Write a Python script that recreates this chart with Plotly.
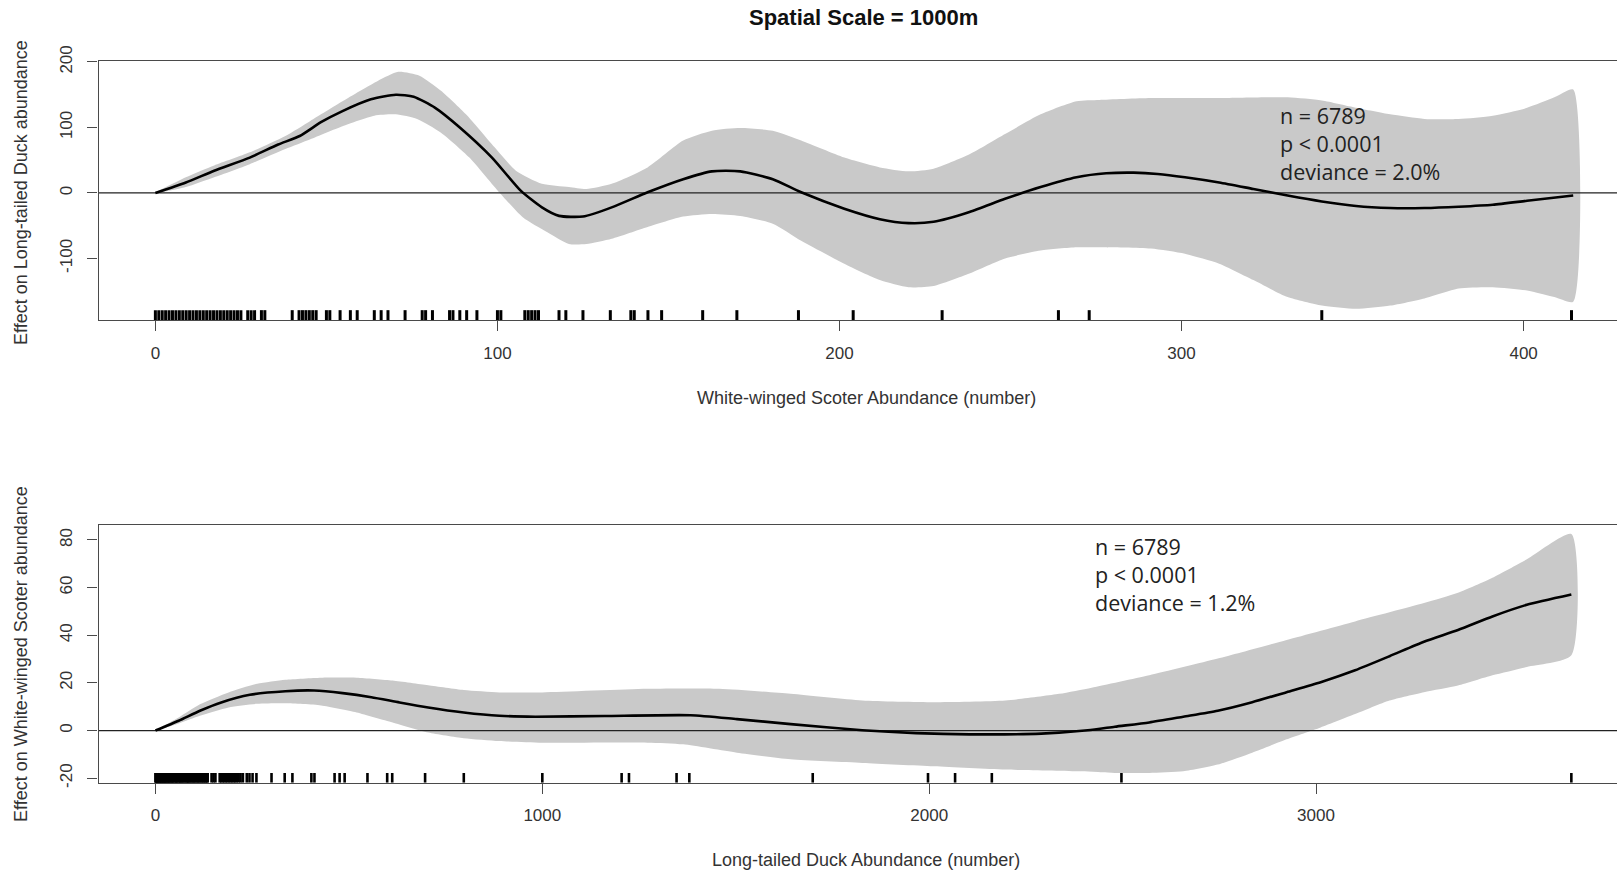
import plotly.graph_objects as go

# ---------------- Panel 1: effect of White-winged Scoter on Long-tailed Duck ----------------
wws_x = [0, 8.9, 17.2, 27.6, 35.9, 42.2, 48.4, 54.7, 63, 70.3, 75.5, 81.8, 89, 98.4, 106.8, 113,
         118, 125, 133.4, 143.9, 154.3, 162.7, 171, 180.5, 188.8, 201.4, 211.8, 220.2, 227.5, 238,
         248.4, 258.8, 269.3, 278, 286, 293, 301, 311, 321, 331, 341, 351, 361, 371, 381, 391, 401, 414.5]
wws_fit = [0, 16, 34, 54, 74, 87, 108, 125, 143, 150, 147, 130, 100, 54, 3.5, -22,
           -35, -36, -22, 1, 21, 33, 33, 21, 1, -24, -40, -46, -44, -29,
           -9, 9, 24, 30, 31, 29, 24, 16, 6, -4, -13, -20, -23, -23, -21, -18, -12, -4]

wws_band_x = [0, 8.9, 17.2, 27.6, 38, 45.3, 54.7, 65, 71, 77.2, 83.5, 90.8, 99.1, 105.4, 113,
              120.9, 126, 133.4, 143.9, 154.3, 162.7, 171, 180.5, 188.8, 201.4, 211.8, 220.2, 227.5,
              238, 248.4, 258.8, 269.3, 276, 291, 311, 331, 341, 351, 361, 371, 381, 391, 401, 409, 414.5]
wws_upper = [1, 24, 42, 62, 87, 110, 140, 171, 185, 179, 156, 120, 70, 34, 14,
             9, 6, 14, 39, 80, 95, 99, 95, 80, 54, 39, 33, 37,
             59, 90, 120, 140, 142, 145, 145, 146, 141, 130, 120, 113, 113, 118, 130, 146, 158]
wws_lower_x = [0, 8.9, 17.2, 27.6, 38, 45.3, 54.7, 64, 70.3, 76.5, 83.5, 91.8, 100.1, 107.4, 114.6,
               120.9, 126, 133.4, 143.9, 154.3, 162.7, 171, 180.5, 188.8, 201.4, 211.8, 220.2, 227.5,
               238, 248.4, 258.8, 269.3, 276, 291, 301, 311, 321, 331, 341, 351, 361, 371, 381, 391,
               401, 409, 414.5]
wws_lower = [-1, 9, 24, 44, 67, 82, 102, 118, 120, 113, 92, 54, 3.5, -37, -60,
             -78, -78, -70, -52, -36, -32, -35, -47, -73, -108, -133, -144, -142,
             -123, -100, -88, -83, -83, -85, -93, -108, -133, -159, -172, -177, -172, -161, -146, -144,
             -149, -159, -166]

wws_rug = [0, 1, 2, 3, 4, 5, 6, 7, 8, 9, 10, 11, 12, 13, 14, 15, 16, 17, 18, 19, 20, 21, 22, 23,
           24, 25, 27, 28, 29, 31, 32, 40, 42, 43, 44, 45, 46, 47, 50, 51, 54, 57, 59, 64, 66, 68,
           73, 78, 79, 81, 86, 87, 89, 91, 94, 100, 101, 108, 109, 110, 111, 112, 118, 120, 125,
           133, 139, 140, 144, 148, 160, 170, 188, 204, 230, 264, 273, 341, 414]

# ---------------- Panel 2: effect of Long-tailed Duck on White-winged Scoter ----------------
ltd_x = [0, 60, 115, 170, 244, 336, 410, 484, 558, 631, 705, 797, 889, 982, 1161, 1383, 1503,
         1642, 1827, 1966, 2105, 2290, 2410, 2480, 2569, 2657, 2746, 2835, 2924, 3012, 3101, 3190,
         3279, 3367, 3456, 3545, 3660]
ltd_fit = [0, 4.1, 8.3, 11.8, 15, 16.5, 16.8, 15.7, 14, 11.8, 9.7, 7.6, 6.2, 5.8, 6.1, 6.4, 4.8,
           2.7, 0.1, -1.1, -1.6, -1.3, 0.1, 1.6, 3.4, 5.8, 8.3, 11.9, 16.1, 20.3, 25.3, 31.2,
           37.3, 42.2, 47.9, 52.8, 57.1]

ltd_up_x = [0, 60, 115, 189, 263, 336, 428, 520, 613, 705, 797, 889, 1000, 1272, 1457, 1642, 1827,
            2012, 2197, 2336, 2420, 2569, 2746, 2924, 3101, 3279, 3367, 3456, 3545, 3660]
ltd_upper = [0, 5.5, 11, 16, 19.6, 21.3, 22.2, 22.2, 21, 19, 17, 16, 16, 17.5, 17.5, 15.4, 12.6,
             11.9, 12.6, 15.4, 18, 23.2, 30.2, 38, 45.8, 53.5, 57.8, 64.1, 71.9, 82.5]
ltd_lo_x = [0, 60, 115, 189, 263, 336, 428, 520, 613, 705, 797, 889, 1000, 1272, 1364, 1503, 1642,
            1827, 2012, 2197, 2391, 2480, 2569, 2657, 2746, 2835, 2924, 3012, 3101, 3190, 3279,
            3367, 3456, 3545, 3660]
ltd_lower = [0, 3, 6.2, 9.7, 11.2, 11.4, 10.5, 7.6, 3.4, -0.8, -3.2, -4.4, -5.1, -5.1, -5.8, -9.3,
             -12.1, -13.6, -15, -16.4, -17.1, -17.8, -17.8, -17.1, -14.3, -9.3, -3.7, 1.3, 6.9,
             12.6, 16.1, 18.9, 23.2, 26.7, 31.6]

ltd_rug = [0, 1, 2, 3, 4, 5, 6, 8, 10, 11, 12, 14, 15, 16, 18, 20, 21, 22, 24, 25, 27, 28, 30, 32,
           33, 35, 36, 38, 40, 42, 44, 45, 47, 50, 52, 54, 55, 57, 60, 62, 64, 65, 68, 70, 72, 75,
           77, 80, 82, 84, 85, 88, 90, 93, 95, 98, 100, 102, 105, 108, 110, 112, 115, 118, 120, 123,
           125, 128, 130, 133, 135, 145, 150, 155, 166, 170, 174, 178, 182, 186, 190, 194, 198, 202,
           206, 210, 215, 220, 226, 236, 243, 251, 261, 300, 334, 354, 403, 411, 463, 476, 489, 548,
           599, 612, 697, 797, 1000, 1205, 1224, 1347, 1380, 1699, 1997, 2067, 2162, 2497, 3660]

# model statistics printed in each panel
top_stats = ["n = 6789", "p < 0.0001", "deviance = 2.0%"]
bot_stats = ["n = 6789", "p < 0.0001", "deviance = 1.2%"]

# axis settings
x1_range = [-16.6, 427.3]
y1_range = [-194, 201.5]
x1_ticks = [0, 100, 200, 300, 400]
y1_ticks = [-100, 0, 100, 200]
y1_ticktext = ["-100", "0", "100", "200"]

x2_range = [-147, 3778]
y2_range = [-21.9, 86.4]
x2_ticks = [0, 1000, 2000, 3000]
y2_ticks = [-20, 0, 20, 40, 60, 80]
y2_ticktext = ["-20", "0", "20", "40", "60", "80"]

W, H = 1617, 877
LEFT = 98.6
BAND = "#c9c9c9"
AXIS = "#4a4a4a"
TXT = "#333333"
FONT = "Liberation Sans, Arial, sans-serif"


def band_trace(xu, yu, xl, yl, xa, ya):
    xs = list(xu) + list(reversed(xl))
    ys = list(yu) + list(reversed(yl))
    return go.Scatter(x=xs, y=ys, mode="lines", fill="toself", fillcolor=BAND,
                      line=dict(width=0, color=BAND, shape="spline", smoothing=0.6),
                      xaxis=xa, yaxis=ya, hoverinfo="skip", showlegend=False)


def rug_trace(vals, yr, xa, ya, width, frac=0.038):
    h = (yr[1] - yr[0]) * frac
    xs, ys = [], []
    for v in vals:
        xs += [v, v, None]
        ys += [yr[0], yr[0] + h, None]
    return go.Scatter(x=xs, y=ys, mode="lines", line=dict(color="black", width=width),
                      xaxis=xa, yaxis=ya, hoverinfo="skip", showlegend=False)


def zero_line(xr, xa, ya):
    return go.Scatter(x=[xr[0], xr[1]], y=[0, 0], mode="lines",
                      line=dict(color="#222222", width=1.2),
                      xaxis=xa, yaxis=ya, hoverinfo="skip", showlegend=False)


def fit_trace(xs, ys, xa, ya):
    return go.Scatter(x=xs, y=ys, mode="lines",
                      line=dict(color="black", width=2.6, shape="spline", smoothing=0.6),
                      xaxis=xa, yaxis=ya, hoverinfo="skip", showlegend=False)


fig = go.Figure()
fig.add_trace(band_trace(wws_band_x, wws_upper, wws_lower_x, wws_lower, "x", "y"))
fig.add_trace(zero_line(x1_range, "x", "y"))
fig.add_trace(fit_trace(wws_x, wws_fit, "x", "y"))
fig.add_trace(rug_trace(wws_rug, y1_range, "x", "y", 3))

fig.add_trace(band_trace(ltd_up_x, ltd_upper, ltd_lo_x, ltd_lower, "x2", "y2"))
fig.add_trace(zero_line(x2_range, "x2", "y2"))
fig.add_trace(fit_trace(ltd_x, ltd_fit, "x2", "y2"))
fig.add_trace(rug_trace(ltd_rug, y2_range, "x2", "y2", 2.6))


def ydom(top_px, bottom_px):
    return [1 - bottom_px / H, 1 - top_px / H]


xdom = [LEFT / W, 1.0]
tickfont = dict(family=FONT, size=17, color=TXT)

common_x = dict(showline=True, linecolor=AXIS, linewidth=1.4, mirror=True, ticks="outside",
                ticklen=10, tickcolor=AXIS, tickwidth=1.2, showgrid=False, zeroline=False,
                tickfont=tickfont, ticklabelstandoff=7, domain=xdom, automargin=False)
common_y = dict(showline=True, linecolor=AXIS, linewidth=1.4, mirror=False, ticks="outside",
                ticklen=10, tickcolor=AXIS, tickwidth=1.2, showgrid=False, zeroline=False,
                tickfont=tickfont, tickangle=-90, ticklabelstandoff=9, automargin=False)

fig.update_layout(
    width=W, height=H,
    margin=dict(l=0, r=0, t=0, b=0, autoexpand=False),
    paper_bgcolor="white", plot_bgcolor="white",
    showlegend=False,
    xaxis=dict(common_x, range=x1_range, tickvals=x1_ticks, anchor="y"),
    yaxis=dict(common_y, range=y1_range, tickvals=y1_ticks, ticktext=y1_ticktext,
               domain=ydom(61, 320), anchor="x"),
    xaxis2=dict(common_x, range=x2_range, tickvals=x2_ticks, anchor="y2"),
    yaxis2=dict(common_y, range=y2_range, tickvals=y2_ticks, ticktext=y2_ticktext,
                domain=ydom(524.7, 782.7), anchor="x2"),
)

ann = []
# main title
ann.append(dict(text="<b>Spatial Scale = 1000m</b>", x=863 / W, y=1 - 17.5 / H, xref="paper", yref="paper",
                xanchor="center", yanchor="middle", showarrow=False,
                font=dict(family=FONT, size=22, color="#111111")))
# axis titles
ann.append(dict(text="White-winged Scoter Abundance (number)", x=866 / W, y=1 - 398 / H,
                xref="paper", yref="paper", xanchor="center", yanchor="middle", showarrow=False,
                font=dict(family=FONT, size=18, color=TXT)))
ann.append(dict(text="Long-tailed Duck Abundance (number)", x=866 / W, y=1 - 860 / H,
                xref="paper", yref="paper", xanchor="center", yanchor="middle", showarrow=False,
                font=dict(family=FONT, size=18, color=TXT)))
ann.append(dict(text="Effect on Long-tailed Duck abundance", x=21 / W, y=1 - 193 / H,
                xref="paper", yref="paper", xanchor="center", yanchor="middle", showarrow=False,
                textangle=-90, font=dict(family=FONT, size=18, color=TXT)))
ann.append(dict(text="Effect on White-winged Scoter abundance", x=21 / W, y=1 - 654 / H,
                xref="paper", yref="paper", xanchor="center", yanchor="middle", showarrow=False,
                textangle=-90, font=dict(family=FONT, size=18, color=TXT)))

# statistics blocks, one multi-line text each
stats_font = dict(family="Open Sans, Noto Sans, sans-serif", size=21.5, color="#222222")
ann.append(dict(text="<br>".join(top_stats), x=1278 / W, y=1 - 143.5 / H, xref="paper", yref="paper",
                xanchor="left", yanchor="middle", align="left", showarrow=False, font=stats_font))
ann.append(dict(text="<br>".join(bot_stats), x=1093 / W, y=1 - 574 / H, xref="paper", yref="paper",
                xanchor="left", yanchor="middle", align="left", showarrow=False, font=stats_font))

fig.update_layout(annotations=ann)
fig.write_html("out.html")
